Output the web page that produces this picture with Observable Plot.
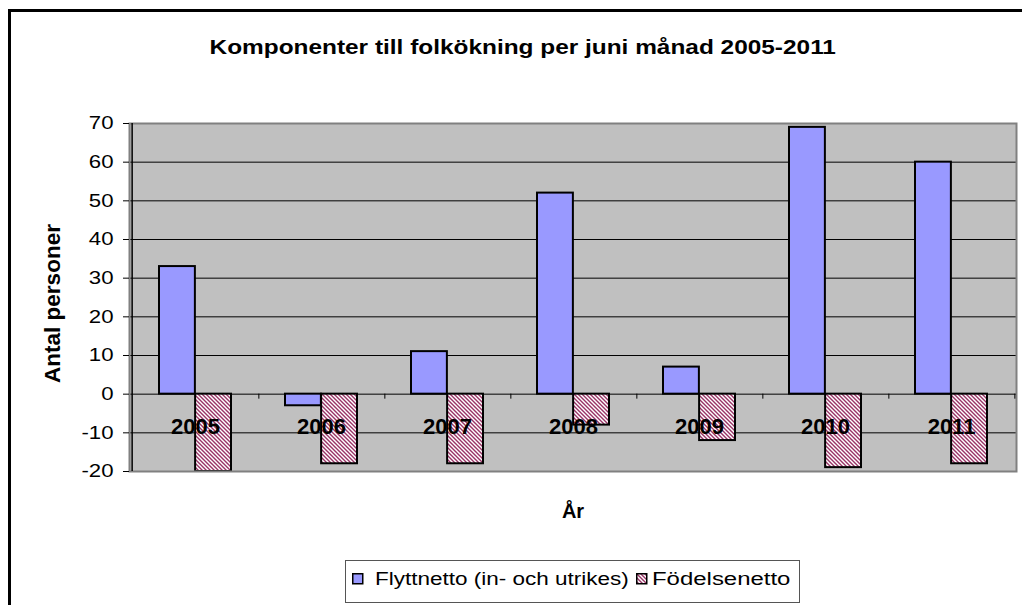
<!DOCTYPE html>
<html lang="sv">
<head>
<meta charset="utf-8">
<script src="https://cdn.jsdelivr.net/npm/d3@7"></script>
<script src="https://cdn.jsdelivr.net/npm/@observablehq/plot@0.6"></script>
<style>
html,body{margin:0;padding:0;background:#fff;}
#wrap{position:relative;width:1022px;height:605px;overflow:hidden;font-family:"Liberation Sans",Arial,sans-serif;color:#000;}
#frame{position:absolute;left:8px;top:9px;width:1100px;height:700px;border-left:3px solid #000;border-top:3px solid #000;box-sizing:border-box;}
#title{position:absolute;left:10px;width:1026px;top:37px;text-align:center;font-weight:bold;font-size:20px;line-height:20px;white-space:nowrap;}
#title span{display:inline-block;transform:scaleX(1.22);transform-origin:50% 50%;}
#chart{position:absolute;left:0;top:0;}
#legend{position:absolute;left:345px;top:560px;width:455px;height:43px;border:1px solid #555;background:#fff;box-sizing:border-box;}
.sw{position:absolute;top:12px;}
.lt{position:absolute;top:9px;font-size:18px;line-height:18px;white-space:nowrap;transform-origin:0 50%;}
</style>
</head>
<body>
<svg width="0" height="0" style="position:absolute">
  <defs>
    <pattern id="stripes" patternUnits="userSpaceOnUse" width="4" height="4">
      <rect width="4" height="4" fill="#ffffff"/>
      <path d="M-1,-1 L5,5 M-1,3 L1,5 M3,-1 L5,1" stroke="#993366" stroke-width="1.4"/>
    </pattern>
  </defs>
</svg>
<div id="wrap">
  <div id="frame"></div>
  <div id="chart"></div>
  <div id="title"><span></span></div>
  <div id="legend"></div>
</div>
<script>
const years = ["2005","2006","2007","2008","2009","2010","2011"];
const flyttnetto = [33,-3,11,52,7,69,60];
const fodelsenetto = [-20,-18,-18,-8,-12,-19,-18];
const yTicks = [-20,-10,0,10,20,30,40,50,60,70];
const seriesNames = ["Flyttnetto (in- och utrikes)","Födelsenetto"];
const seriesColors = ["#9999ff","url(#stripes)"];
const titleText = "Komponenter till folkökning per juni månad 2005-2011";
const yLabel = "Antal personer";
const xLabel = "År";

const rows = years.map((year,i)=>({year, flytt: flyttnetto[i], fodel: fodelsenetto[i]}));

const W=1022, H=605, mL=129, mR=6, mT=123, mB=134;
const padIn=0.43, padOut=0.215;
const step = (W-mL-mR)/(years.length - padIn + 2*padOut);
const bw = step*(1-padIn);

const plot = Plot.plot({
  width: W, height: H, marginLeft: mL, marginRight: mR, marginTop: mT, marginBottom: mB,
  style: {fontFamily: '"Liberation Sans", Arial, sans-serif', fontSize: "18.5px", background: "transparent", color: "#000", overflow: "visible"},
  x: {type: "band", domain: years, paddingInner: padIn, paddingOuter: padOut, axis: null},
  y: {domain: [yTicks[0], yTicks[yTicks.length-1]], axis: null},
  marks: [
    Plot.frame({fill: "#c0c0c0", stroke: "none"}),
    Plot.ruleY(yTicks.slice(1,-1), {stroke: "#000", strokeWidth: 1}),
    Plot.barY(rows, {x: "year", y1: () => 0, y2: "flytt", fill: seriesColors[0], stroke: "#000", strokeWidth: 2, insetRight: bw/2}),
    Plot.barY(rows, {x: "year", y1: () => 0, y2: "fodel", fill: seriesColors[1], stroke: "#000", strokeWidth: 2, insetLeft: bw/2}),
    Plot.frame({stroke: "#808080", strokeWidth: 2}),
    Plot.ruleX(years, {x: d => d, y1: () => 0, y2: () => 0, dx: step/2, insetBottom: -5, stroke: "#000", strokeWidth: 1}),
    Plot.ruleX([years[0]], {x: d => d, y1: () => yTicks[0], y2: () => yTicks[yTicks.length-1], dx: -step/2, stroke: "#000", strokeWidth: 1.5}),
    Plot.axisY({ticks: yTicks, tickSize: 6, tickPadding: 10, tickFormat: d => String(d), label: null, fontSize: 18.5}),
    Plot.text(years, {x: d => d, y: () => 0, dy: 33, text: d => d, fontWeight: "bold", fontSize: 22}),
    Plot.text([yLabel], {frameAnchor: "left", textAnchor: "middle", text: d => d, rotate: -90, dx: -77, dy: 6, fontWeight: "bold", fontSize: 22.5}),
    Plot.text([xLabel], {frameAnchor: "bottom", text: d => d, dy: 46, fontWeight: "bold", fontSize: 20})
  ]
});

// horizontally widen the y tick labels around their right-aligned anchor
function stretch(nodes, s) {
  nodes.forEach(node => {
    const t = node.getAttribute("transform") || "";
    const xa = node.getAttribute("x");
    const x = xa !== null && !isNaN(+xa) ? +xa : 0;
    if (xa !== null && !isNaN(+xa)) node.removeAttribute("x");
    node.setAttribute("transform", `${t} translate(${x},0) scale(${s},1)`);
  });
}
stretch(Array.from(plot.querySelectorAll('g[aria-label="y-axis tick label"] text')), 1.2);

document.getElementById("chart").appendChild(plot);
document.querySelector("#title span").textContent = titleText;

// legend
const legend = d3.select("#legend");
const swX = [6, 290], txX = [29, 306], txS = [1.25, 1.33];
seriesNames.forEach((name, i) => {
  const sw = legend.append("svg").attr("class", "sw").attr("width", 12).attr("height", 12)
    .style("left", swX[i] + "px");
  sw.append("rect").attr("x", 0.75).attr("y", 0.75).attr("width", 10).attr("height", 10)
    .attr("fill", seriesColors[i]).attr("stroke", "#000").attr("stroke-width", 1.5);
  legend.append("div").attr("class", "lt").style("left", txX[i] + "px")
    .style("transform", `scaleX(${txS[i]})`).text(name);
});
</script>
</body>
</html>
